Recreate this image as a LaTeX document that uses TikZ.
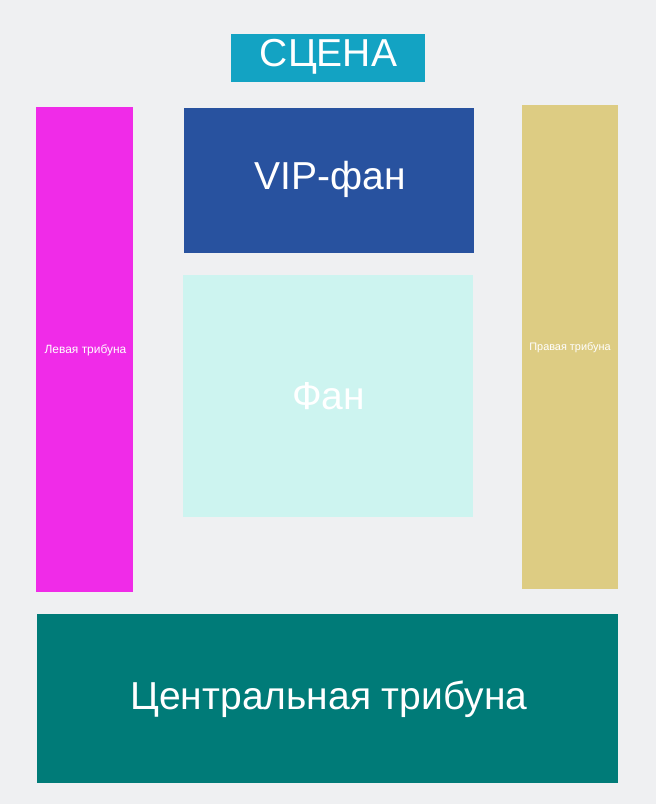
\documentclass[tikz,border=0pt]{standalone}
\usepackage{fontspec}
\setmainfont{Liberation Sans}
\definecolor{fond}{HTML}{EFF0F2}
\definecolor{scene}{HTML}{13A3C3}
\definecolor{gauche}{HTML}{F02BE8}
\definecolor{vip}{HTML}{28529F}
\definecolor{droite}{HTML}{DDCC83}
\definecolor{fan}{HTML}{CDF4F0}
\definecolor{centre}{HTML}{007B78}
\tikzset{
  grand/.style={text=white, font=\fontsize{22.2}{26}\selectfont, inner sep=0, anchor=base},
  petit/.style={text=white, font=\fontsize{6.2}{7}\selectfont, inner sep=0, anchor=base}
}

\begin{document}
\begin{tikzpicture}[x=0.02cm, y=-0.02cm]

% Zone de dessin / drawing area
\fill [fond] (0,0) rectangle (656,804);

% Blocs
\fill [scene] (231,34) rectangle (425,82);
\fill [gauche] (36,107) rectangle (133,592);
\fill [vip] (184,108) rectangle (474,253);
\fill [droite] (522,105) rectangle (618,589);
\fill [fan] (183,275) rectangle (473,517);
\fill [centre] (37,614) rectangle (618,783);

% Etiquettes / labels
\node [grand] (scena) at (328.5,67) {СЦЕНА};
\node [petit, font=\fontsize{6.8}{8}\selectfont] (levaya) at (85.5,353) {Левая трибуна};
\node [grand] (vipfan) at (330.5,190) {VIP-фан};
\node [petit] (pravaya) at (570,350) {Правая трибуна};
\node [grand] (fan) at (328.5,409) {Фан};
\node [grand] (central) at (329,709) {Центральная трибуна};

\end{tikzpicture}
\end{document}
